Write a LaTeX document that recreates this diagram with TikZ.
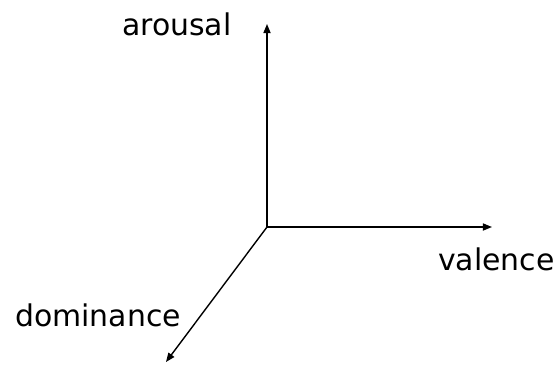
\documentclass[tikz,border=0pt]{standalone}
\usepackage{fontspec}
\setmainfont{DejaVu Sans}
\usetikzlibrary{arrows.meta}

\begin{document}
\begin{tikzpicture}[x=1bp,y=-1bp]
      \path[use as bounding box] (0,0) rectangle (560,364);
      \coordinate (origin) at (267,227);
      \coordinate (arousaltip) at (267,24);
      \coordinate (valencetip) at (492,227);
      \coordinate (dominancetip) at (166,362);
      \foreach \tip in {arousaltip,valencetip,dominancetip}{
        \draw[line width=1.4pt,-{Triangle[length=3.2mm,width=2.5mm]}]
          (origin) -- (\tip);
      }
      \node[anchor=base west,inner sep=0,font=\fontsize{30}{34}\selectfont]
        (arousal) at (122,35) {arousal};
      \node[anchor=base west,inner sep=0,font=\fontsize{30}{34}\selectfont]
        (valence) at (438,270) {valence};
      \node[anchor=base west,inner sep=0,font=\fontsize{30}{34}\selectfont]
        (dominance) at (15,326) {dominance};
    \end{tikzpicture}
\end{document}
